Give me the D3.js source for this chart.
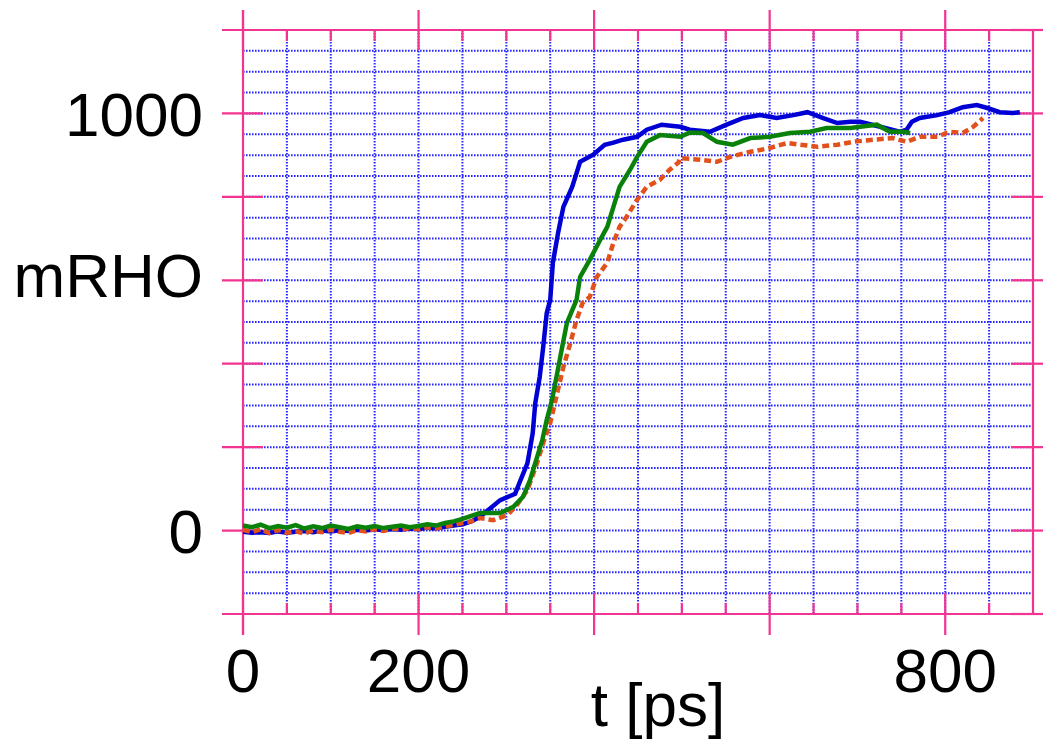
<!DOCTYPE html>
<html><head><meta charset="utf-8">
<script src="https://cdn.jsdelivr.net/npm/d3@7"></script>
<style>body{margin:0;background:#fff}svg{display:block}</style>
</head><body>
<svg id="c" width="1043" height="741"></svg>
<script>
// ---- data ----
const blueT = [0,10,20,30,40,50,60,70,80,90,100,110,120,130,140,150,160,170,180,190,200,210,220,230,240,250,260,270,293,310,316,324,330,333,338,342,346,350,353,359,365,375,380,384,399,412,422,433,449,460,477,498,509,532,551,570,589,608,627,643,661,677,692,703,726,748,756,762,771,791,805,820,836,848,862,877,885];
const blueV = [-3,-5,-4,-6,-2,-5,-3,-1,-4,0,-2,1,-1,2,0,3,1,4,2,5,3,7,5,9,12,15,22,33,73,88,120,161,233,306,368,440,521,553,642,714,776,824,857,884,901,925,930,937,944,961,973,968,961,956,973,989,996,989,996,1003,989,977,980,980,968,956,961,980,989,996,1003,1015,1020,1013,1003,1001,1003];
const greenT = [0,10,20,30,40,50,60,70,80,90,100,110,120,130,140,150,160,170,180,190,200,210,220,230,240,250,260,270,293,308,319,327,335,341,346,352,358,363,369,380,384,395,407,415,422,429,441,449,460,475,498,509,524,540,558,578,600,623,646,665,692,703,722,737,752,760];
const greenV = [12,8,14,6,11,7,13,5,10,6,12,8,4,10,7,11,6,9,12,8,11,15,12,18,22,28,35,42,42,57,81,121,176,217,265,313,378,433,498,553,608,649,697,728,776,824,865,896,932,948,944,954,953,932,925,941,944,953,956,965,965,968,973,956,956,953];
const redT = [0,10,20,30,40,50,60,70,80,90,100,110,120,130,140,150,160,170,180,190,200,210,220,230,240,250,260,270,285,301,312,324,335,342,350,358,365,373,380,387,395,403,415,422,429,437,449,460,475,486,496,498,521,540,555,578,600,620,635,654,677,695,718,740,756,771,791,805,820,832,843];
const redV = [2,-4,3,-6,1,-5,-2,-7,0,-4,2,-3,-6,1,-2,3,-1,5,2,6,3,8,5,10,14,18,22,30,25,37,61,97,162,210,258,330,392,450,505,546,560,608,642,690,728,752,793,824,841,865,882,893,889,884,896,908,917,929,925,920,925,932,937,941,932,944,944,956,953,968,989];
const xTickLabels = ["0","200","800"];
const yTickLabels = ["0","1000"];
const xTitle = "t [ps]";
const yTitle = "mRHO";

// ---- setup ----
const svg = d3.select("#c");
const x = d3.scaleLinear().domain([0,900]).range([243,1033]);
const y = d3.scaleLinear().domain([-200,1200]).range([614,30]);
const MAG = "#f2338f", GRID = "#2828ff";
const FONT = "'Liberation Sans', Arial, sans-serif";

// grid (dotted blue)
const g = svg.append("g");
g.selectAll("line.h").data(d3.range(-150,1200,50)).join("line")
  .attr("x1", x(0)).attr("x2", x(900)).attr("y1", d=>y(d)).attr("y2", d=>y(d))
  .attr("stroke", GRID).attr("stroke-width",2).attr("stroke-dasharray","1.6,1.4");
g.selectAll("line.v").data(d3.range(50,900,50)).join("line")
  .attr("y1", y(1200)).attr("y2", y(-200)).attr("x1", d=>x(d)).attr("x2", d=>x(d))
  .attr("stroke", GRID).attr("stroke-width",2).attr("stroke-dasharray","1.6,1.4");

// frame + ticks (magenta)
const f = svg.append("g").attr("stroke", MAG).attr("stroke-width",2.2).attr("fill","none");
f.append("line").attr("x1", 222).attr("x2",1043).attr("y1",y(1200)).attr("y2",y(1200));
f.append("line").attr("x1", 222).attr("x2",1043).attr("y1",y(-200)).attr("y2",y(-200));
f.append("line").attr("x1", x(900)).attr("x2",x(900)).attr("y1",y(1200)).attr("y2",y(-200));
d3.range(-200,1201,200).forEach(v=>{
  f.append("line").attr("x1",222).attr("x2",x(0)+20).attr("y1",y(v)).attr("y2",y(v));
  f.append("line").attr("x1",x(900)-22).attr("x2",1043).attr("y1",y(v)).attr("y2",y(v));
});
d3.range(0,900,50).forEach(t=>{
  if (t % 200 === 0) {
    f.append("line").attr("x1",x(t)).attr("x2",x(t)).attr("y1",y(1200)-20).attr("y2",y(1200)+20);
    f.append("line").attr("x1",x(t)).attr("x2",x(t)).attr("y1",y(-200)-21).attr("y2",y(-200)+21);
  } else {
    f.append("line").attr("x1",x(t)).attr("x2",x(t)).attr("y1",y(1200)).attr("y2",y(1200)+11);
    f.append("line").attr("x1",x(t)).attr("x2",x(t)).attr("y1",y(-200)-11).attr("y2",y(-200));
  }
});
f.append("line").attr("x1",x(0)).attr("x2",x(0)).attr("y1",y(1200)-20).attr("y2",y(-200)+21);

// series
function series(T,V,color,dash){
  const pts = T.map((t,i)=>[t,V[i]]);
  svg.append("path").datum(pts)
    .attr("d", d3.line().x(d=>x(d[0])).y(d=>y(d[1])))
    .attr("fill","none").attr("stroke",color).attr("stroke-width",4.5)
    .attr("stroke-linejoin","miter").attr("stroke-dasharray", dash||null);
}
series(blueT,blueV,"#0000d4");
series(redT,redV,"#e2501c","7,4");
series(greenT,greenV,"#0a820a");

// labels
const txt = svg.append("g").attr("font-family",FONT).attr("font-size",62).attr("fill","#000");
txt.selectAll("text.yl").data(yTickLabels).join("text")
  .attr("x",203).attr("y",d=>y(+d)).attr("dy","0.36em").attr("text-anchor","end").text(d=>d);
txt.append("text").attr("x",203).attr("y",y(600)+17).attr("text-anchor","end").text(yTitle);
txt.selectAll("text.xl").data(xTickLabels).join("text")
  .attr("x",d=>x(+d)).attr("y",692).attr("text-anchor","middle").text(d=>d);
txt.append("text").attr("x",658).attr("y",726).attr("text-anchor","middle").text(xTitle);
</script>
</body></html>
